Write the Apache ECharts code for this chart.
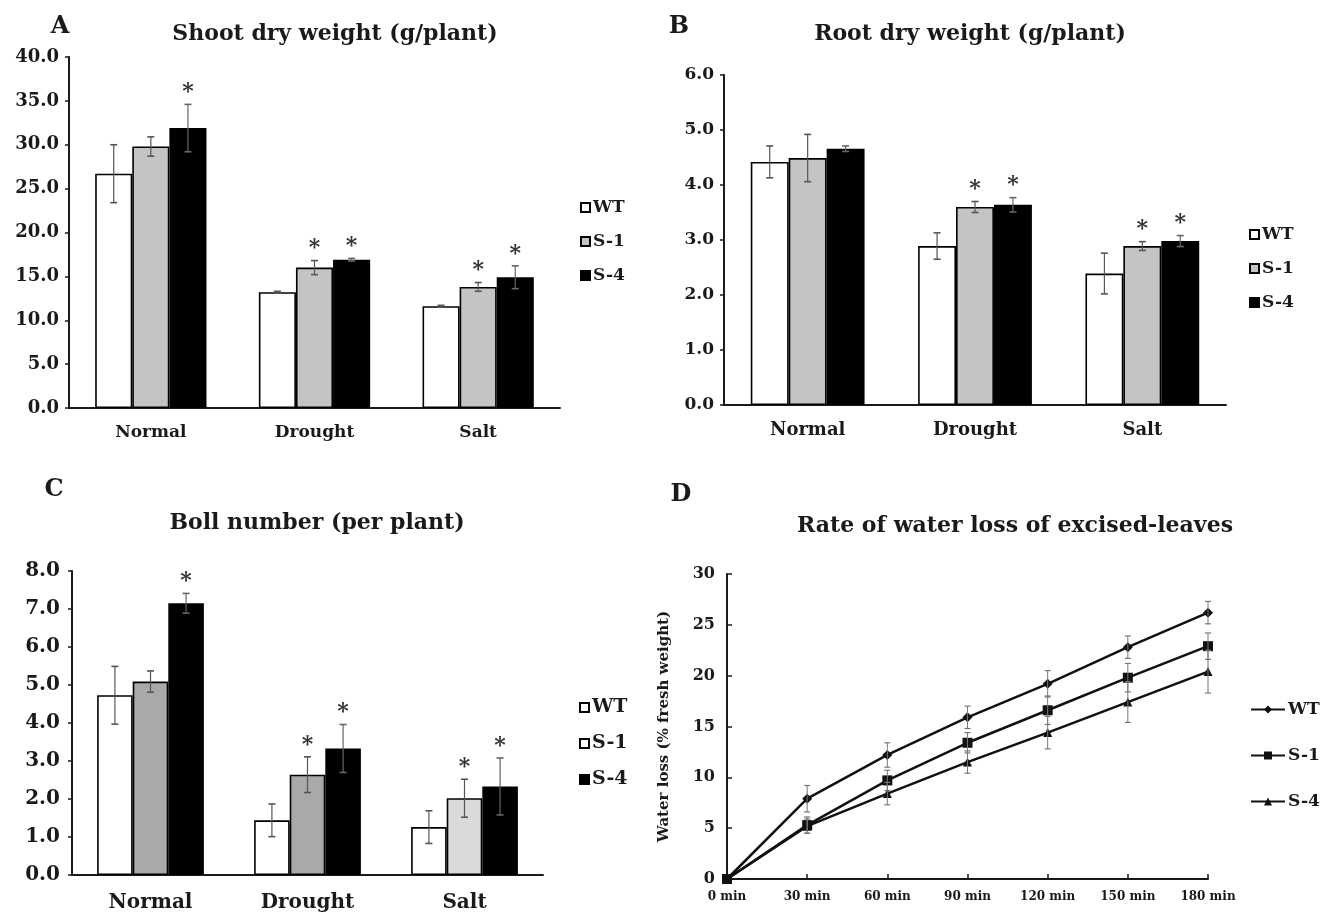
<!DOCTYPE html>
<html><head><meta charset="utf-8">
<script src="https://cdn.jsdelivr.net/npm/echarts@6/dist/echarts.min.js"></script>
<style>html,body{margin:0;padding:0;background:#fff}#c{width:1327px;height:916px}</style>
</head><body><div id="c"></div>
<script>
// ---------- DATA ----------
const conditions = ['Normal', 'Drought', 'Salt'];
const genotypes = ['WT', 'S-1', 'S-4'];

// A: Shoot dry weight (g/plant)
const shootWT = [26.7, 13.2, 11.6];
const shootWTErr = [3.3, 0.1, 0.1];
const shootS1 = [29.8, 16.0, 13.8];
const shootS1Err = [1.1, 0.8, 0.5];
const shootS4 = [31.9, 16.9, 14.9];
const shootS4Err = [2.7, 0.15, 1.3];
const shootStarWT = [0, 0, 0];
const shootStarS1 = [0, 1, 1];
const shootStarS4 = [1, 1, 1];
const shootTicks = [0, 40, 5];

// B: Root dry weight (g/plant)
const rootWT = [4.42, 2.89, 2.39];
const rootWTErr = [0.29, 0.24, 0.37];
const rootS1 = [4.49, 3.60, 2.89];
const rootS1Err = [0.43, 0.10, 0.08];
const rootS4 = [4.66, 3.64, 2.98];
const rootS4Err = [0.05, 0.13, 0.10];
const rootStarWT = [0, 0, 0];
const rootStarS1 = [0, 1, 1];
const rootStarS4 = [0, 1, 1];
const rootTicks = [0, 6, 1];

// C: Boll number (per plant)
const bollWT = [4.73, 1.44, 1.26];
const bollWTErr = [0.76, 0.43, 0.43];
const bollS1 = [5.09, 2.64, 2.02];
const bollS1Err = [0.28, 0.47, 0.50];
const bollS4 = [7.15, 3.33, 2.33];
const bollS4Err = [0.26, 0.63, 0.75];
const bollStarWT = [0, 0, 0];
const bollStarS1 = [0, 1, 1];
const bollStarS4 = [1, 1, 1];
const bollTicks = [0, 8, 1];

// D: Rate of water loss of excised-leaves (% fresh weight)
const times = ['0 min', '30 min', '60 min', '90 min', '120 min', '150 min', '180 min'];
const lossWT = [0, 7.9, 12.2, 15.9, 19.2, 22.8, 26.2];
const lossWTErr = [0, 1.3, 1.2, 1.1, 1.3, 1.1, 1.1];
const lossS1 = [0, 5.3, 9.7, 13.4, 16.6, 19.8, 22.9];
const lossS1Err = [0, 0.8, 1.0, 1.0, 1.4, 1.4, 1.3];
const lossS4 = [0, 5.2, 8.4, 11.5, 14.4, 17.4, 20.4];
const lossS4Err = [0, 0.7, 1.1, 1.1, 1.6, 2.0, 2.1];
const lossTicks = [0, 30, 5];

// ---------- STYLE ----------
const FONT = '"DejaVu Serif", "Liberation Serif", serif';
const GAP = 0.32;
const INK = '#1a1a1a';

const grids = [
  { left: 69, top: 57, width: 491, height: 351 },
  { left: 724, top: 75, width: 502, height: 330 },
  { left: 72, top: 571, width: 471, height: 304 },
  { left: 727, top: 574, width: 481, height: 305 }
];

function errItem(params, api) {
  const c = api.value(0), v = api.value(1), e = api.value(2), st = api.value(3), s = api.value(4);
  const band = api.size([1, 0])[0];
  const bw = band * (1 - GAP) / 3;
  const x = api.coord([c, v])[0] + (s - 1) * bw;
  const yTop = api.coord([c, v + e])[1];
  const yBot = api.coord([c, Math.max(0, v - e)])[1];
  const col = s === 2 ? '#666' : '#555';
  const ch = [];
  if (e > 0) {
    ch.push({ type: 'line', shape: { x1: x, y1: yTop, x2: x, y2: yBot }, style: { stroke: col, lineWidth: 1.2 } });
    ch.push({ type: 'line', shape: { x1: x - 3.5, y1: yTop, x2: x + 3.5, y2: yTop }, style: { stroke: col, lineWidth: 1.6 } });
    ch.push({ type: 'line', shape: { x1: x - 3.5, y1: yBot, x2: x + 3.5, y2: yBot }, style: { stroke: col, lineWidth: 1.6 } });
  }
  if (st) {
    ch.push({ type: 'text', style: { text: '*', x: x, y: yTop - 12, align: 'center', verticalAlign: 'middle', font: 'bold 22px ' + FONT, fill: '#333' } });
  }
  return { type: 'group', children: ch };
}

function lineErrItem(params, api) {
  const i = api.value(0), v = api.value(1), e = api.value(2);
  if (!(e > 0)) return { type: 'group', children: [] };
  const x = api.coord([i, v])[0];
  const yT = api.coord([i, v + e])[1], yB = api.coord([i, v - e])[1];
  return { type: 'group', children: [
    { type: 'line', shape: { x1: x, y1: yT, x2: x, y2: yB }, style: { stroke: '#777', lineWidth: 1 } },
    { type: 'line', shape: { x1: x - 3, y1: yT, x2: x + 3, y2: yT }, style: { stroke: '#777', lineWidth: 1.2 } },
    { type: 'line', shape: { x1: x - 3, y1: yB, x2: x + 3, y2: yB }, style: { stroke: '#777', lineWidth: 1.2 } }
  ] };
}

const xAxes = [], yAxes = [], series = [], legends = [];

function barPanel(idx, prefix, means, errs, stars, ticks, fills, yFont, xFont, xMargin, yMargin) {
  xAxes.push({
    type: 'category', gridIndex: idx, data: conditions,
    axisLine: { lineStyle: { color: INK, width: 2 } }, axisTick: { show: false },
    axisLabel: { fontFamily: FONT, fontWeight: 'bold', fontSize: xFont, color: INK, margin: xMargin }
  });
  yAxes.push({
    type: 'value', gridIndex: idx, min: ticks[0], max: ticks[1], interval: ticks[2],
    axisLine: { show: true, lineStyle: { color: INK, width: 2 } },
    axisTick: { show: true, length: 4, lineStyle: { color: INK, width: 1.5 } },
    splitLine: { show: false },
    axisLabel: { fontFamily: FONT, fontWeight: 'bold', fontSize: yFont, color: INK, margin: yMargin,
      formatter: v => v.toFixed(1) }
  });
  const errData = [];
  genotypes.forEach((g, s) => {
    series.push({
      name: prefix + g, type: 'bar', xAxisIndex: idx, yAxisIndex: idx,
      barGap: '0%', barCategoryGap: (GAP * 100) + '%',
      data: means[s].map((v, k) => ({ value: v, itemStyle: { color: fills[s][k] } })),
      itemStyle: { color: fills[s][0], borderColor: '#000', borderWidth: 1.6 },
      emphasis: { disabled: true }, z: 2
    });
    means[s].forEach((v, k) => errData.push([k, v, errs[s][k], stars[s][k], s]));
  });
  series.push({ type: 'custom', xAxisIndex: idx, yAxisIndex: idx, renderItem: errItem, data: errData, z: 5, silent: true });
}

barPanel(0, 'A:', [shootWT, shootS1, shootS4], [shootWTErr, shootS1Err, shootS4Err],
  [shootStarWT, shootStarS1, shootStarS4], shootTicks,
  [['#fff', '#fff', '#fff'], ['#c4c4c4', '#c4c4c4', '#c4c4c4'], ['#000', '#000', '#000']], 18, 17, 16, 10);
barPanel(1, 'B:', [rootWT, rootS1, rootS4], [rootWTErr, rootS1Err, rootS4Err],
  [rootStarWT, rootStarS1, rootStarS4], rootTicks,
  [['#fff', '#fff', '#fff'], ['#c4c4c4', '#c4c4c4', '#c4c4c4'], ['#000', '#000', '#000']], 17, 18, 16, 10);
barPanel(2, 'C:', [bollWT, bollS1, bollS4], [bollWTErr, bollS1Err, bollS4Err],
  [bollStarWT, bollStarS1, bollStarS4], bollTicks,
  [['#fff', '#fff', '#fff'], ['#a9a9a9', '#a9a9a9', '#dadada'], ['#000', '#000', '#000']], 20, 20, 18, 12);

// D
xAxes.push({
  type: 'category', gridIndex: 3, data: times, boundaryGap: false,
  axisLine: { lineStyle: { color: INK, width: 2 } },
  axisTick: { show: true, inside: true, length: 5, lineStyle: { color: INK, width: 1.5 } },
  axisLabel: { fontFamily: FONT, fontWeight: 'bold', fontSize: 12, color: INK, margin: 12 }
});
yAxes.push({
  type: 'value', gridIndex: 3, min: lossTicks[0], max: lossTicks[1], interval: lossTicks[2],
  name: 'Water loss (% fresh weight)', nameLocation: 'middle', nameGap: 55,
  nameTextStyle: { fontFamily: FONT, fontWeight: 'bold', fontSize: 15, color: INK },
  axisLine: { show: true, lineStyle: { color: INK, width: 2 } },
  axisTick: { show: true, inside: true, length: 5, lineStyle: { color: INK, width: 1.5 } },
  splitLine: { show: false },
  axisLabel: { fontFamily: FONT, fontWeight: 'bold', fontSize: 16, color: INK, margin: 12 }
});
const lossSets = [[lossWT, lossWTErr, 'diamond', 10], [lossS1, lossS1Err, 'rect', 10], [lossS4, lossS4Err, 'triangle', 9]];
lossSets.forEach((d, s) => {
  series.push({
    name: 'D:' + genotypes[s], type: 'line', xAxisIndex: 3, yAxisIndex: 3, data: d[0],
    symbol: d[2], symbolSize: d[3], showAllSymbol: true,
    lineStyle: { color: '#111', width: 2.5 }, itemStyle: { color: '#111' },
    emphasis: { disabled: true }, z: 3
  });
  series.push({ type: 'custom', xAxisIndex: 3, yAxisIndex: 3, renderItem: lineErrItem,
    data: d[0].map((v, i) => [i, v, d[1][i]]), z: 4, silent: true });
});

function legend(prefix, left, top, gap, fs, extra) {
  return Object.assign({
    orient: 'vertical', left: left, top: top, itemGap: gap, itemWidth: 9, itemHeight: 9,
    selectedMode: false, icon: 'rect',
    data: genotypes.map(g => ({ name: prefix + g })),
    formatter: n => n.slice(2),
    textStyle: { fontFamily: FONT, fontWeight: 'bold', fontSize: fs, color: INK, padding: [0, 0, 0, -2] }
  }, extra || {});
}
legends.push(legend('A:', 575, 194, 17, 17));
legends.push(legend('B:', 1244, 221, 17, 17));
const legC = legend('C:', 574, 693, 17, 19);
legC.data[1].itemStyle = { color: '#fff' };
legends.push(legC);
legends.push(legend('D:', 1245, 696, 29, 17, { itemWidth: 34, itemHeight: 10, icon: null }));

function txt(x, y, s, size) {
  return { type: 'text', x: x, y: y, style: { text: s, font: 'bold ' + size + 'px ' + FONT, fill: INK, align: 'center', verticalAlign: 'middle' } };
}

const option = {
  animation: false,
  backgroundColor: '#fff',
  grid: grids,
  xAxis: xAxes,
  yAxis: yAxes,
  legend: legends,
  series: series,
  graphic: [
    txt(60, 27, 'A', 24), txt(335, 34, 'Shoot dry weight (g/plant)', 22),
    txt(679, 27, 'B', 24), txt(970, 34, 'Root dry weight (g/plant)', 22),
    txt(54, 490, 'C', 24), txt(317, 523, 'Boll number (per plant)', 22),
    txt(681, 495, 'D', 24), txt(1015, 526, 'Rate of water loss of excised-leaves', 22)
  ]
};
const chart = echarts.init(document.getElementById('c'), null, { renderer: 'canvas' });
chart.setOption(option);
</script></body></html>
